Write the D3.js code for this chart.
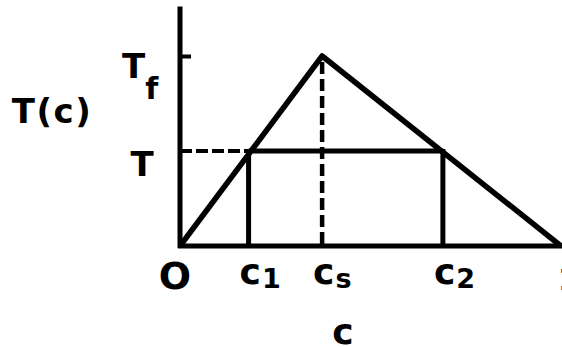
<!DOCTYPE html>
<html>
<head>
<meta charset="utf-8">
<script src="https://cdn.jsdelivr.net/npm/d3@7"></script>
<style>
  html, body { margin: 0; padding: 0; background: #fff; }
  svg { display: block; }
  text { font-family: "DejaVu Sans", sans-serif; font-weight: bold; fill: #000; }
</style>
</head>
<body>
<svg id="chart" width="562" height="347"></svg>
<script>
// Concentration values (fraction of the full range, 0..1)
const cValues = { c1: 0.18, cs: 0.373, c2: 0.69, end: 1 };
// Temperature values (relative to the peak temperature Tf)
const tValues = { T: 0.5, Tf: 1, axisTop: 1.26 };
// Liquidus-like tent: rises from the origin to the peak, then falls to c = 1
const tentC = [0, cValues.cs, cValues.end];
const tentT = [0, tValues.Tf, 0];
// Axis labels placed at concentration values
const xTickLabels = [
  { main: "O", sub: "", c: 0 },
  { main: "c", sub: "1", c: cValues.c1 },
  { main: "c", sub: "s", c: cValues.cs },
  { main: "c", sub: "2", c: cValues.c2 }
];

const svg = d3.select("#chart");
const x = d3.scaleLinear().domain([0, 1]).range([180, 561]);
const y = d3.scaleLinear().domain([0, 1]).range([246, 56]);

const ink = "#000";

// Axes
svg.append("line")
  .attr("x1", x(0)).attr("x2", x(0))
  .attr("y1", y(0) + 2).attr("y2", y(tValues.axisTop))
  .attr("stroke", ink).attr("stroke-width", 5);
svg.append("line")
  .attr("x1", x(0) - 2).attr("x2", x(1) + 4)
  .attr("y1", y(0)).attr("y2", y(0))
  .attr("stroke", ink).attr("stroke-width", 5);

// Tf tick on the temperature axis
const yAxis = d3.axisRight(y).tickValues([tValues.Tf]).tickSize(11).tickFormat("");
const gy = svg.append("g").attr("transform", `translate(${x(0)},0)`).call(yAxis);
gy.select(".domain").remove();
gy.selectAll(".tick line").attr("stroke", ink).attr("stroke-width", 4);

// Tent line
const tent = tentC.map((c, i) => [c, tentT[i]]);
svg.append("path")
  .attr("d", d3.line().x(d => x(d[0])).y(d => y(d[1]))(tent))
  .attr("fill", "none").attr("stroke", ink)
  .attr("stroke-width", 5.5).attr("stroke-linejoin", "round");

// Dashed guide from the peak down to cs
svg.append("line")
  .attr("x1", x(cValues.cs)).attr("x2", x(cValues.cs))
  .attr("y1", y(tValues.Tf) + 6).attr("y2", y(0))
  .attr("stroke", ink).attr("stroke-width", 4.5)
  .attr("stroke-dasharray", "12,5");

// Dashed guide from the T axis to c1
svg.append("line")
  .attr("x1", x(0)).attr("x2", x(cValues.c1))
  .attr("y1", y(tValues.T)).attr("y2", y(tValues.T))
  .attr("stroke", ink).attr("stroke-width", 4)
  .attr("stroke-dasharray", "12,4");

// Tie line at temperature T between c1 and c2
svg.append("line")
  .attr("x1", x(cValues.c1)).attr("x2", x(cValues.c2))
  .attr("y1", y(tValues.T)).attr("y2", y(tValues.T))
  .attr("stroke", ink).attr("stroke-width", 5);

// Verticals from the tie-line ends down to the c axis
[cValues.c1, cValues.c2].forEach(c => {
  svg.append("line")
    .attr("x1", x(c)).attr("x2", x(c))
    .attr("y1", y(tValues.T) - 2).attr("y2", y(0))
    .attr("stroke", ink).attr("stroke-width", 5);
});

// Labels on the temperature axis
const tf = svg.append("text").attr("x", 122).attr("y", 78).attr("font-size", 34);
tf.append("tspan").text("T");
tf.append("tspan").attr("font-size", 30).attr("dy", 21).attr("dx", 0).text("f");

svg.append("text").attr("x", 142).attr("y", 176).attr("font-size", 34)
  .attr("text-anchor", "middle").text("T");

svg.append("text").attr("x", 52).attr("y", 123).attr("font-size", 34)
  .attr("letter-spacing", 1.5)
  .attr("text-anchor", "middle").text("T(c)");

// Labels on the concentration axis
xTickLabels.forEach(d => {
  const t = svg.append("text").attr("y", d.main === "O" ? 289 : 284)
    .attr("font-size", d.main === "O" ? 38 : 36);
  if (d.main === "O") {
    t.attr("x", x(d.c) - 5).attr("text-anchor", "middle").text(d.main);
  } else {
    t.attr("x", x(d.c) - 9);
    t.append("tspan").text(d.main);
    t.append("tspan").attr("font-size", 27).attr("dy", 4).attr("dx", 1).text(d.sub);
  }
});

// End-of-range label at c = 1 (only its stem fits before the right edge)
svg.append("text").attr("x", x(cValues.end) - 3).attr("y", 290)
  .attr("font-family", "Liberation Sans, sans-serif")
  .attr("font-size", 30).attr("font-weight", "normal").text("1");

// Axis title
svg.append("text").attr("x", 343).attr("y", 344).attr("font-size", 36)
  .attr("text-anchor", "middle").text("c");
</script>
</body>
</html>
